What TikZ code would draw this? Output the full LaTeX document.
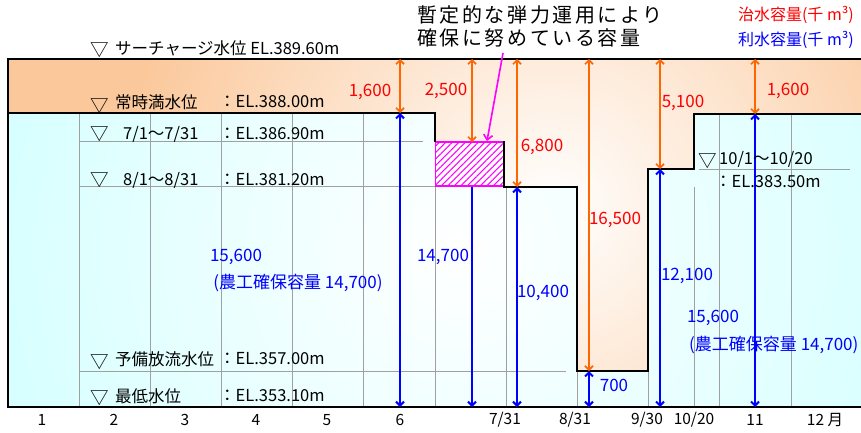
\documentclass[tikz,border=0pt]{standalone}
\usepackage{fontspec}
\setmainfont{Noto Sans CJK JP}
\newfontfamily\annfont[LetterSpace=13]{Noto Sans CJK JP}
\usetikzlibrary{arrows.meta,patterns.meta}
\definecolor{peach}{RGB}{251,200,155}
\definecolor{aqua}{RGB}{200,255,255}
\definecolor{orng}{RGB}{255,102,0}
\definecolor{gridgray}{RGB}{160,160,160}
\definecolor{mag}{RGB}{255,0,255}
\definecolor{rd}{RGB}{255,0,0}
\definecolor{bl}{RGB}{0,0,255}
\tikzset{
  lbl/.style={font=\fontsize{16.5}{18}\selectfont, inner sep=0pt, anchor=west},
  tri/.style={font=\fontsize{18.5}{20}\selectfont, inner sep=0pt},
  rnum/.style={font=\fontsize{17}{18}\selectfont, inner sep=0pt, text=rd},
  bnum/.style={font=\fontsize{17}{18}\selectfont, inner sep=0pt, text=bl},
  axl/.style={font=\fontsize{15.5}{17}\selectfont, inner sep=0pt},
  gridln/.style={draw=gridgray, line width=0.9pt},
  bound/.style={draw=black, line width=1.8pt},
  oarr/.style={draw=orng, line width=1.7pt, >={Straight Barb[length=4pt,width=8pt]}},
  barr/.style={draw=bl, line width=2pt, >={Straight Barb[length=4pt,width=8pt]}},
}
\begin{document}
\begin{tikzpicture}[x=1pt,y=-1pt]
\useasboundingbox (0,0) rectangle (861,432);
% flood-control (orange) area
\begin{scope}
  \clip (8,59) rectangle (861,407);
  \fill[peach] (8,59) rectangle (861,407);
  \shade[inner color=white,outer color=peach] (550,210) circle (430pt);
\end{scope}
% water-use (cyan) area
\begin{scope}
  \clip (8,113) -- (435,113) -- (435,142) -- (504,142) -- (504,187) -- (577,187)
    -- (577,371) -- (648,371) -- (648,169) -- (694,169) -- (694,114) -- (861,114)
    -- (861,407) -- (8,407) -- cycle;
  \fill[aqua] (0,0) rectangle (861,432);
  \shade[inner color=white,outer color=aqua] (460,250) circle (640pt);
\end{scope}
% grid lines
\foreach \gx in {79,150,221,292,363} \draw[gridln] (\gx,113) -- (\gx,407);
\foreach \gx in {435,506,694} \draw[gridln] (\gx,187) -- (\gx,407);
\foreach \gx in {577,648} \draw[gridln] (\gx,371) -- (\gx,407);
\foreach \gx in {719,791} \draw[gridln] (\gx,114) -- (\gx,407);
\draw[gridln] (79,141) -- (423,141);
\draw[gridln] (79,186) -- (435,186);
\draw[gridln] (79,371) -- (566,371);
\draw[gridln] (699,169) -- (850,169);
% hatched box
\node[draw=mag, line width=1.6pt, minimum width=68pt, minimum height=44pt, inner sep=0pt,
  preaction={fill=white}, pattern={Lines[angle=45,distance=4.6pt,line width=1.1pt]}, pattern color=mag]
  (hatch) at (469.5,164) {};
% water boundary
\draw[bound] (8,113) -- (435,113) -- (435,142);
\draw[bound] (503,142) -- (504,142) -- (504,187) -- (577,187) -- (577,371) -- (648,371)
  -- (648,169) -- (694,169) -- (694,114) -- (861,114);
% frame
\draw[bound, line width=2pt] (861,59) -- (8,59) -- (8,407) -- (861,407);
% arrow end points
\coordinate (o1t) at (400,59);  \coordinate (o1b) at (400,113);
\coordinate (b1b) at (400,407);
\coordinate (o2t) at (472,59);  \coordinate (o2b) at (472,142);
\coordinate (b2t) at (472,187); \coordinate (b2b) at (472,407);
\coordinate (o3t) at (517,59);  \coordinate (o3b) at (517,187);
\coordinate (b3b) at (517,407);
\coordinate (o4t) at (589,59);  \coordinate (o4b) at (589,371);
\coordinate (b4b) at (589,407);
\coordinate (o5t) at (660,59);  \coordinate (o5b) at (660,169);
\coordinate (b5b) at (660,407);
\coordinate (o6t) at (755,59);  \coordinate (o6b) at (755,114);
\coordinate (b6b) at (755,407);
\draw[oarr,<->] (o1t) -- (o1b);
\draw[barr,<->] (o1b) -- (b1b);
\draw[oarr,<->] (o2t) -- (o2b);
\draw[barr,->] (b2t) -- (b2b);
\draw[oarr,<->] (o3t) -- (o3b);
\draw[barr,<->] (o3b) -- (b3b);
\draw[oarr,<->] (o4t) -- (o4b);
\draw[barr,<->] (o4b) -- (b4b);
\draw[oarr,<->] (o5t) -- (o5b);
\draw[barr,<->] (o5b) -- (b5b);
\draw[oarr,<->] (o6t) -- (o6b);
\draw[barr,<->] (o6b) -- (b6b);
% annotation
\node[font=\annfont\fontsize{20}{24}\selectfont, inner sep=0pt, anchor=north west, align=left]
  (ann) at (417,5) {暫定的な弾力運用により\\[-1pt]確保に努めている容量};
\coordinate (magstart) at (503,53);
\coordinate (magtip) at (487,141);
\draw[draw=mag, line width=1.6pt, -{Straight Barb[length=5pt,width=9pt]}] (magstart) -- (magtip);
% legend
\node[font=\fontsize{16}{18}\selectfont, inner sep=0pt, anchor=east, text=rd] (lg1) at (854,15) {治水容量(千 m³)};
\node[font=\fontsize{16}{18}\selectfont, inner sep=0pt, anchor=east, text=bl] (lg2) at (854,40) {利水容量(千 m³)};
% level labels
\node[tri] (v1) at (100,50) {▽};
\node[lbl] (l1) at (115,48) {サーチャージ水位 EL.389.60m};
\node[tri] (v2) at (100,106) {▽};
\node[lbl] (l2) at (115,102) {常時満水位};
\node[lbl] (e2) at (219,102) {：EL.388.00m};
\node[tri] (v3) at (100,134) {▽};
\node[lbl] (l3) at (123,134) {7/1～7/31};
\node[lbl] (e3) at (219,134) {：EL.386.90m};
\node[tri] (v4) at (100,180) {▽};
\node[lbl] (l4) at (123,180) {8/1～8/31};
\node[lbl] (e4) at (219,180) {：EL.381.20m};
\node[tri] (v5) at (100,362) {▽};
\node[lbl] (l5) at (115,359) {予備放流水位};
\node[lbl] (e5) at (219,359) {：EL.357.00m};
\node[tri] (v6) at (100,398) {▽};
\node[lbl] (l6) at (115,396) {最低水位};
\node[lbl] (e6) at (219,396) {：EL.353.10m};
\node[tri] (v7) at (708,161) {▽};
\node[lbl] (l7) at (719,159) {10/1～10/20};
\node[lbl] (e7) at (715,182) {：EL.383.50m};
% volume labels
\node[rnum] (n1) at (370,92) {1,600};
\node[rnum] (n2) at (446,91) {2,500};
\node[rnum] (n3) at (542,147) {6,800};
\node[rnum] (n4) at (615,220) {16,500};
\node[rnum] (n5) at (683,103) {5,100};
\node[rnum] (n6) at (788,91) {1,600};
\node[bnum] (m1) at (236,257) {15,600};
\node[bnum] (m1b) at (298,283) {(農工確保容量 14,700)};
\node[bnum] (m2) at (443,257) {14,700};
\node[bnum] (m3) at (543,293) {10,400};
\node[bnum] (m4) at (614,385) {700};
\node[bnum] (m5) at (687,276) {12,100};
\node[bnum] (m6) at (713,318) {15,600};
\node[bnum, anchor=west] (m6b) at (689,345) {(農工確保容量 14,700)};
% axis labels
\node[axl] (a1) at (42,420) {1};
\node[axl] (a2) at (114,420) {2};
\node[axl] (a3) at (185,420) {3};
\node[axl] (a4) at (256,420) {4};
\node[axl] (a5) at (327,420) {5};
\node[axl] (a6) at (400,420) {6};
\node[axl] (a7) at (505,420) {7/31};
\node[axl] (a8) at (575,420) {8/31};
\node[axl] (a9) at (647,420) {9/30};
\node[axl] (a10) at (694,420) {10/20};
\node[axl] (a11) at (755,420) {11};
\node[axl] (a12) at (825,420) {12 月};
\end{tikzpicture}
\end{document}
